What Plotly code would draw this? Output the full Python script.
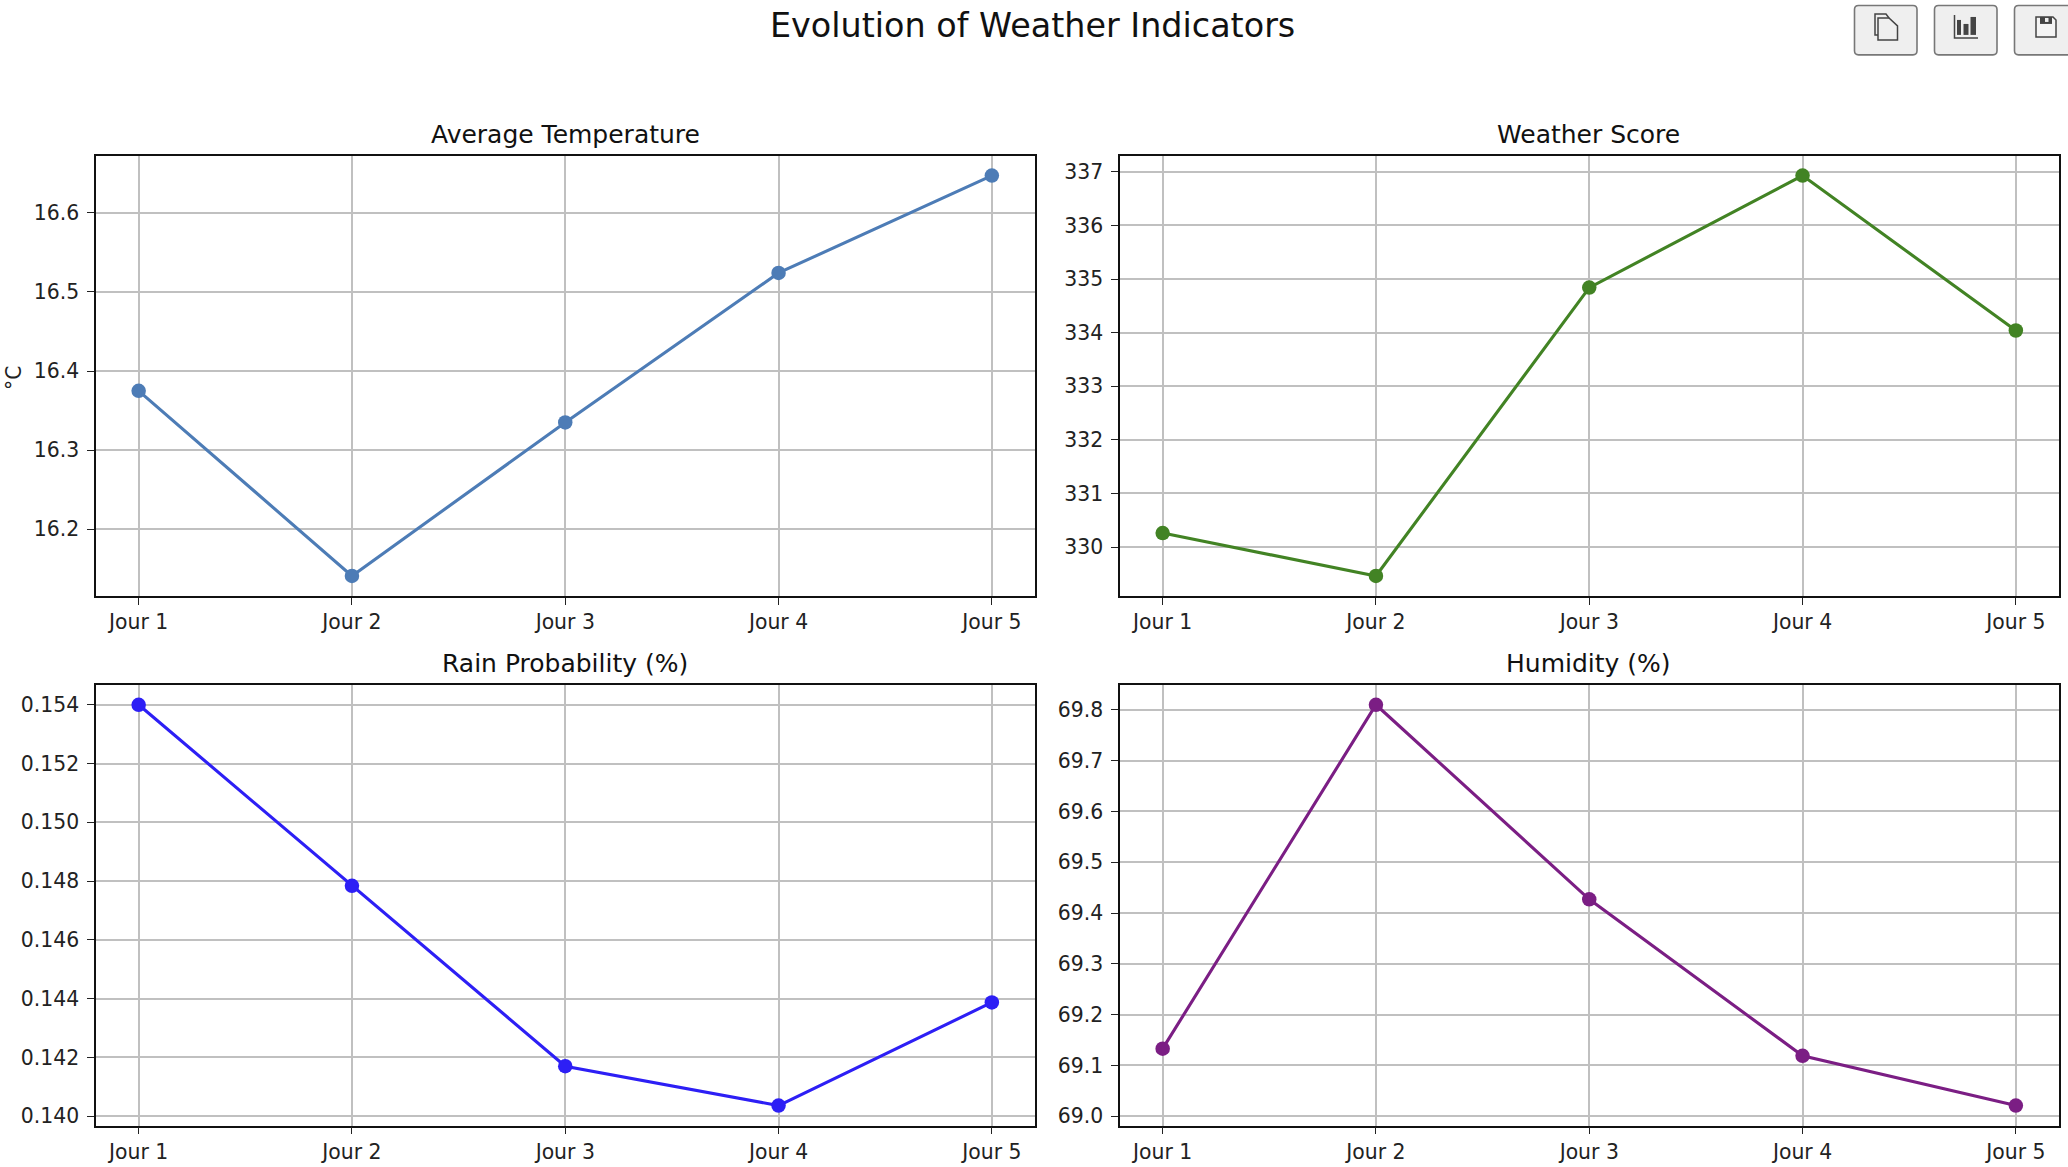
import plotly.graph_objects as go

W, H = 2068, 1167

days = ["Jour 1", "Jour 2", "Jour 3", "Jour 4", "Jour 5"]
temperature = [16.375, 16.141, 16.335, 16.524, 16.647]
score = [330.26, 329.46, 334.84, 336.93, 334.04]
rain = [0.1540, 0.14784, 0.14170, 0.14036, 0.14387]
humidity = [69.133, 69.81, 69.427, 69.119, 69.021]

titles = ["Average Temperature", "Weather Score", "Rain Probability (%)", "Humidity (%)"]
colors = ["#4d7cb6", "#428324", "#2d1ff5", "#7b1e84"]
dticks = [0.1, 1, 0.002, 0.1]
formats = [".1f", "d", ".3f", ".1f"]
series = [temperature, score, rain, humidity]
# axes boxes in page pixels: left, right, top, bottom
boxes = [(96, 1034.5, 156, 597.5), (1120, 2058.5, 156, 597.5),
         (96, 1034.5, 686.5, 1128.5), (1120, 2058.5, 686.5, 1128.5)]
title_rows = [135, 135, 665.5, 665.5]
title_cols = [565, 1588, 565, 1588]

FONT = "DejaVu Sans"
px = lambda x: x / W
py = lambda y: 1 - y / H

fig = go.Figure()
annotations = [dict(text="Evolution of Weather Indicators", x=px(1032), y=py(26), xref="paper", yref="paper",
                    showarrow=False, xanchor="center", yanchor="middle",
                    font=dict(family=FONT, size=33.4, color="#111111")),
               dict(text="°C", x=px(14), y=py(379), xref="paper", yref="paper", textangle=-90,
                    showarrow=False, xanchor="center", yanchor="middle",
                    font=dict(family=FONT, size=20.4, color="#222222"))]
layout_axes = {}
for i, (vals, box) in enumerate(zip(series, boxes)):
    n = "" if i == 0 else str(i + 1)
    fig.add_trace(go.Scatter(x=days, y=vals, mode="lines+markers", name=titles[i], showlegend=False,
                             xaxis="x" + n, yaxis="y" + n,
                             line=dict(color=colors[i], width=3.1),
                             marker=dict(color=colors[i], size=14.5)))
    lo, hi = min(vals), max(vals)
    pad = (hi - lo) * 0.05
    common = dict(showline=True, mirror=True, linecolor="#111111", linewidth=1.6,
                  showgrid=True, gridcolor="#c0c0c0", gridwidth=1.5, zeroline=False,
                  ticks="outside", ticklen=7, tickwidth=1.4, tickcolor="#222222",
                  tickfont=dict(family=FONT, size=20.4, color="#222222"))
    layout_axes["xaxis" + n] = dict(common, domain=[px(box[0]), px(box[1])], anchor="y" + n,
                                    type="category", range=[-0.2, 4.2])
    layout_axes["yaxis" + n] = dict(common, domain=[py(box[3]), py(box[2])], anchor="x" + n,
                                    range=[lo - pad, hi + pad], dtick=dticks[i], tickformat=formats[i],
                                    tick0=0, ticklabelstandoff=4)
    annotations.append(dict(text=titles[i], x=px(title_cols[i]), y=py(title_rows[i]),
                            xref="paper", yref="paper", showarrow=False,
                            xanchor="center", yanchor="middle",
                            font=dict(family=FONT, size=25, color="#111111")))


def rrect(x0, y0, x1, y1, r):
    return (f"M{px(x0+r)},{py(y0)} L{px(x1-r)},{py(y0)} Q{px(x1)},{py(y0)} {px(x1)},{py(y0+r)} "
            f"L{px(x1)},{py(y1-r)} Q{px(x1)},{py(y1)} {px(x1-r)},{py(y1)} L{px(x0+r)},{py(y1)} "
            f"Q{px(x0)},{py(y1)} {px(x0)},{py(y1-r)} L{px(x0)},{py(y0+r)} Q{px(x0)},{py(y0)} {px(x0+r)},{py(y0)} Z")


def poly(points, close=True):
    d = "M" + " L".join(f"{px(x)},{py(y)}" for x, y in points)
    return d + (" Z" if close else "")


GREY = "#444444"
shapes = []
for x0, x1 in [(1854.5, 1917), (1934.5, 1997), (2014.5, 2077)]:
    shapes.append(dict(type="path", xref="paper", yref="paper", path=rrect(x0, 5.5, x1, 55, 4),
                       fillcolor="#efefef", line=dict(color="#777777", width=1.6)))
# copy icon
shapes.append(dict(type="path", xref="paper", yref="paper",
                   path=poly([(1878, 18), (1889, 18), (1897.5, 26), (1897.5, 40), (1878, 40)]),
                   fillcolor="#efefef", line=dict(color=GREY, width=1.5)))
shapes.append(dict(type="path", xref="paper", yref="paper",
                   path=poly([(1878, 35), (1875, 35), (1875, 14), (1886, 14), (1889, 18)], close=False),
                   line=dict(color=GREY, width=1.5)))
# chart icon
shapes.append(dict(type="path", xref="paper", yref="paper",
                   path=poly([(1954.5, 15), (1954.5, 38), (1978, 38)], close=False),
                   line=dict(color=GREY, width=1.5)))
for a, b, t in [(1957, 1961, 20), (1963.5, 1968.5, 24), (1970.5, 1976, 17)]:
    shapes.append(dict(type="rect", xref="paper", yref="paper", x0=px(a), x1=px(b), y0=py(35), y1=py(t),
                       fillcolor=GREY, line=dict(width=0)))
# save icon
shapes.append(dict(type="path", xref="paper", yref="paper",
                   path=poly([(2036, 17), (2053, 17), (2056, 20), (2056, 37), (2036, 37)]),
                   fillcolor="#f4f4f4", line=dict(color=GREY, width=1.5)))
shapes.append(dict(type="rect", xref="paper", yref="paper", x0=px(2040), x1=px(2052), y0=py(24), y1=py(17),
                   fillcolor=GREY, line=dict(width=0)))
shapes.append(dict(type="rect", xref="paper", yref="paper", x0=px(2045), x1=px(2048.5), y0=py(22), y1=py(18),
                   fillcolor="#efefef", line=dict(width=0)))

fig.update_layout(width=W, height=H, margin=dict(l=0, r=0, t=0, b=0), autosize=False,
                  paper_bgcolor="white", plot_bgcolor="white",
                  annotations=annotations, shapes=shapes, **layout_axes)
fig.write_html("out.html", config=dict(displayModeBar=False),
               post_script="document.body.style.margin='0';document.body.style.overflow='hidden';")
